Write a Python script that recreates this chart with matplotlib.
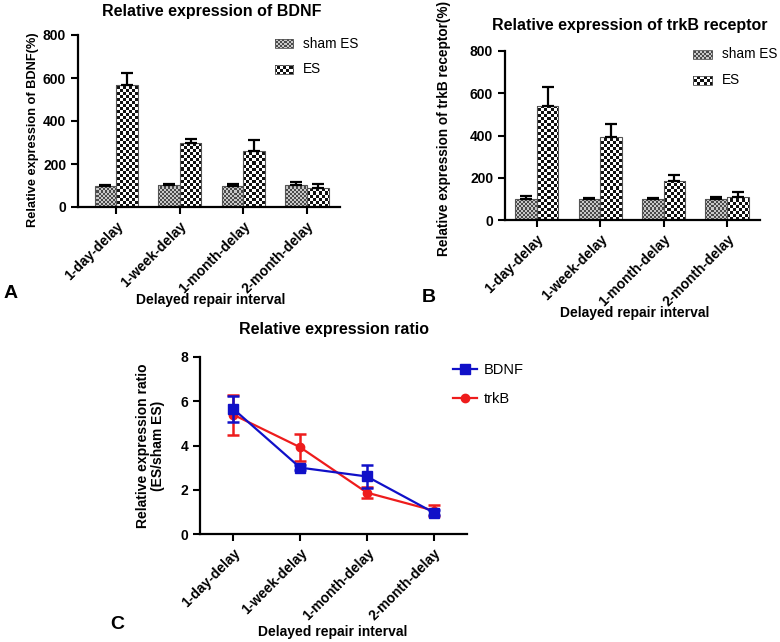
import numpy as np
import matplotlib
matplotlib.use("Agg")
import matplotlib.pyplot as plt
from matplotlib.patches import Rectangle
from matplotlib.lines import Line2D

plt.rcParams['font.family'] = ['Liberation Sans', 'DejaVu Sans']

categories = ['1-day-delay', '1-week-delay', '1-month-delay', '2-month-delay']

bdnf_sham = [100, 101, 100, 101]
bdnf_sham_err = [3, 5, 5, 16]
bdnf_es = [567, 300, 259, 90]
bdnf_es_err = [57, 17, 52, 19]

trkb_sham = [100, 100, 100, 100]
trkb_sham_err = [12, 6, 5, 7]
trkb_es = [539, 394, 186, 107]
trkb_es_err = [89, 60, 26, 24]

ratio_bdnf = [5.65, 3.0, 2.6, 0.97]
ratio_bdnf_err = [0.6, 0.1, 0.5, 0.12]
ratio_trkb = [5.39, 3.92, 1.87, 1.06]
ratio_trkb_err = [0.9, 0.62, 0.25, 0.25]

W, H = 780, 642
fig = plt.figure(figsize=(W / 100, H / 100), dpi=100)


def px_axes(x0, x1, ytop, ybot):
    return fig.add_axes([x0 / W, 1 - ybot / H, (x1 - x0) / W, (ybot - ytop) / H])


def checker(ax, patch, cell, c1, c2):
    bb = ax.get_position()
    nx = int(bb.width * W / cell)
    ny = int(bb.height * H / cell)
    grid = (np.add.outer(np.arange(ny), np.arange(nx)) % 2).astype(float)
    cmap = matplotlib.colors.ListedColormap([c1, c2])
    im = ax.imshow(grid, cmap=cmap, extent=(0, 1, 0, 1), transform=ax.transAxes,
                   interpolation='nearest', aspect='auto', zorder=1.5, vmin=0, vmax=1)
    im.set_clip_path(patch)


SHAM = (2, '#4a4a4a', '#c8c8c8')
ES = (3, '#111111', '#ffffff')


def style_axes(ax):
    for s in ['top', 'right']:
        ax.spines[s].set_visible(False)
    for s in ['left', 'bottom']:
        ax.spines[s].set_linewidth(1.6)
    ax.tick_params(axis='both', width=1.5, length=5, labelsize=10)
    for lab in ax.get_yticklabels() + ax.get_xticklabels():
        lab.set_fontweight('bold')


def bar_panel(ax, sham, sham_err, es, es_err, xlim, ylabel, ysize, lab_xy, leg):
    x = np.arange(len(categories))
    w = 0.34
    b1 = ax.bar(x - w / 2, sham, w, facecolor='none', edgecolor='#555555', linewidth=0.8, zorder=2)
    b2 = ax.bar(x + w / 2, es, w, facecolor='none', edgecolor='#555555', linewidth=0.8, zorder=2)
    for p in b1:
        checker(ax, p, *SHAM)
    for p in b2:
        checker(ax, p, *ES)
    ax.errorbar(x - w / 2, sham, yerr=[np.zeros(4), sham_err], fmt='none', ecolor='black',
                elinewidth=1.6, capsize=4, capthick=1.6, zorder=3)
    ax.errorbar(x + w / 2, es, yerr=[np.zeros(4), es_err], fmt='none', ecolor='black',
                elinewidth=1.6, capsize=4, capthick=1.6, zorder=3)
    ax.set_xlim(*xlim)
    ax.set_ylim(0, 800)
    ax.set_yticks([0, 200, 400, 600, 800])
    ax.set_xticks(x)
    ax.set_xticklabels(categories, rotation=45, ha='right', rotation_mode='anchor')
    ax.set_ylabel(ylabel, fontsize=ysize, fontweight='bold')
    ax.yaxis.set_label_coords(*lab_xy)
    style_axes(ax)
    # legend swatches
    lx, lw, y1, y2, lh, tx = leg
    for yy, st, txt in [(y1, SHAM, 'sham ES'), (y2, ES, 'ES')]:
        r = Rectangle((lx, yy - lh / 2), lw, lh, transform=ax.transAxes, facecolor='none',
                      edgecolor='#555555', linewidth=0.6, zorder=2, clip_on=False)
        ax.add_patch(r)
        checker(ax, r, *st)
        ax.text(tx, yy, txt, transform=ax.transAxes, fontsize=9.8, va='center', ha='left')


# Panel A
axA = px_axes(78, 340, 35, 207)
bar_panel(axA, bdnf_sham, bdnf_sham_err, bdnf_es, bdnf_es_err, (-0.6, 3.52),
          'Relative expression of BDNF(%)', 9.2, (-0.15, 0.45),
          (0.752, 0.069, 0.948, 0.802, 0.052, 0.859))

# Panel B
axB = px_axes(505, 760, 51, 220)
bar_panel(axB, trkb_sham, trkb_sham_err, trkb_es, trkb_es_err, (-0.5, 3.52),
          'Relative expression of trkB receptor(%)', 9.8, (-0.21, 0.54),
          (0.737, 0.075, 0.982, 0.828, 0.053, 0.851))

# Panel C
axC = px_axes(200, 467, 357, 534)
x = np.arange(len(categories))
blue, red = '#1010c8', '#ee1c1c'
axC.errorbar(x, ratio_bdnf, yerr=ratio_bdnf_err, color=blue, marker='s', markersize=7,
             linewidth=1.6, elinewidth=1.8, capsize=4, capthick=1.8, zorder=4)
axC.errorbar(x, ratio_trkb, yerr=ratio_trkb_err, color=red, marker='o', markersize=6,
             linewidth=1.6, elinewidth=1.8, capsize=4, capthick=1.8, zorder=3)
axC.set_xlim(-0.5, 3.5)
axC.set_ylim(0, 8)
axC.set_yticks([0, 2, 4, 6, 8])
axC.set_xticks(x)
axC.set_xticklabels(categories, rotation=45, ha='right', rotation_mode='anchor')
axC.set_ylabel('Relative expression ratio\n(ES/sham ES)', fontsize=10, fontweight='bold',
               linespacing=1.1)
axC.yaxis.set_label_coords(-0.13, 0.5)
style_axes(axC)
handles = [Line2D([], [], color=blue, marker='s', markersize=7, linewidth=1.6),
           Line2D([], [], color=red, marker='o', markersize=6, linewidth=1.6)]
axC.legend(handles, ['BDNF', 'trkB'], loc='upper left', bbox_to_anchor=(0.9, 1.04),
           frameon=False, fontsize=10.5, handlelength=1.6, handletextpad=0.5, labelspacing=1.0)

# titles, x labels, panel letters
fig.text(0.272, 0.982, 'Relative expression of BDNF', ha='center', va='center',
         fontsize=11.5, fontweight='bold')
fig.text(0.808, 0.961, 'Relative expression of trkB receptor', ha='center', va='center',
         fontsize=11.5, fontweight='bold')
fig.text(0.428, 0.486, 'Relative expression ratio', ha='center', va='center',
         fontsize=11.5, fontweight='bold')
fig.text(0.27, 0.533, 'Delayed repair interval', ha='center', va='center',
         fontsize=10, fontweight='bold')
fig.text(0.814, 0.512, 'Delayed repair interval', ha='center', va='center',
         fontsize=10, fontweight='bold')
fig.text(0.427, 0.016, 'Delayed repair interval', ha='center', va='center',
         fontsize=10, fontweight='bold')
fig.text(0.004, 0.543, 'A', ha='left', va='center', fontsize=14, fontweight='bold')
fig.text(0.541, 0.537, 'B', ha='left', va='center', fontsize=14, fontweight='bold')
fig.text(0.141, 0.027, 'C', ha='left', va='center', fontsize=14, fontweight='bold')

fig.savefig('out.png', dpi=100)
